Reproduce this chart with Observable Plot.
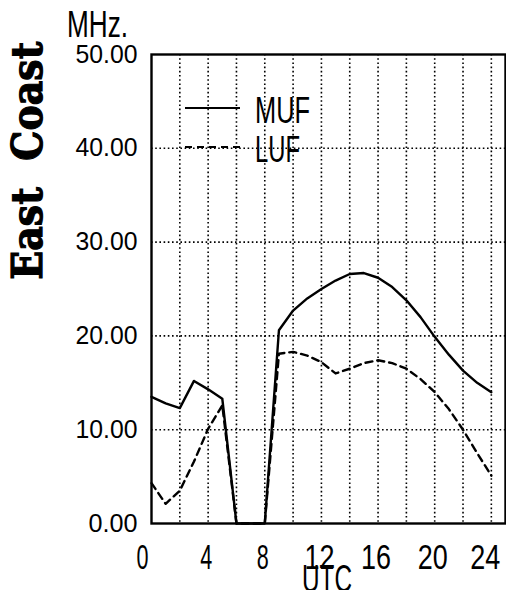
<!DOCTYPE html>
<html><head><meta charset="utf-8">
<script src="https://cdn.jsdelivr.net/npm/d3@7"></script>
<script src="https://cdn.jsdelivr.net/npm/@observablehq/plot@0.6"></script>
<style>body{margin:0;background:#fff}</style>
</head><body><div id="chart"></div>
<script>
// ---- data ----
const hours = [0,1,2,3,4,5,6,7,8,9,10,11,12,13,14,15,16,17,18,19,20,21,22,23,24];
const muf = [13.5,12.8,12.3,15.2,14.3,13.3,0,0,0,20.6,22.7,24.0,25.0,25.9,26.6,26.7,26.2,25.2,23.8,22.0,19.9,18.0,16.3,15.0,14.0];
const luf = [4.3,2.1,3.5,6.6,10.1,12.6,0,0,0,18.1,18.3,17.9,17.2,16.0,16.5,17.1,17.4,17.1,16.5,15.4,14.0,12.2,10.0,7.5,5.1];
const seriesNames = ["MUF","LUF"];
const xTicks = [0,4,8,12,16,20,24];
const yTicks = [0,10,20,30,40,50];
const xGrid = [2,4,6,8,10,12,14,16,18,20,22,24];
const yGrid = [10,20,30,40];
const yUnit = "MHz.";
const xLabel = "UTC";
const title = "East\u00a0 Coast";

const narrow = "'Liberation Sans Narrow','Liberation Sans',Arial,sans-serif";
const dots = {stroke:"#000", strokeWidth:1.6, strokeDasharray:"1.6,2.6"};

const chart = Plot.plot({
  width: 506, height: 590,
  marginLeft: 151, marginTop: 54, marginBottom: 67, marginRight: 1,
  style: {fontFamily: narrow, background: "#fff", color: "#000"},
  x: {domain: [0, 25]},
  y: {domain: [0, 50]},
  marks: [
    Plot.ruleX(xGrid, dots),
    Plot.ruleY(yGrid, dots),
    Plot.line(luf, {x: hours, y: luf, stroke: "#000", strokeWidth: 2.4, strokeDasharray: "7,5"}),
    Plot.line(muf, {x: hours, y: muf, stroke: "#000", strokeWidth: 2.4}),
    Plot.frame({stroke: "#000", strokeWidth: 2.4}),
    Plot.axisX({ticks: xTicks, tickSize: 0, tickPadding: 21, fontSize: 35, label: null}),
    Plot.axisY({ticks: yTicks, tickFormat: d3.format(".2f"), tickSize: 0, tickPadding: 14, fontSize: 25, label: null})
  ]
});
document.getElementById("chart").appendChild(chart);

const svg = d3.select(chart);
// condense tick labels to the plotter-font widths
svg.selectAll("g[aria-label='x-axis tick label'] text").each(function() {
  const s = this.textContent;
  const shift = s === "0" ? -9 : s === "24" ? -6 : -2;
  d3.select(this).attr("textLength", s.length > 1 ? 30 : 12).attr("lengthAdjust", "spacingAndGlyphs")
    .attr("dx", shift);
});
svg.selectAll("g[aria-label='y-axis tick label'] text").each(function() {
  const s = this.textContent;
  const w = s.replace(/[^0-9]/g, "").length * 13 + 10;
  d3.select(this).attr("textLength", w).attr("lengthAdjust", "spacingAndGlyphs");
});

function addText(str, attrs) {
  const t = svg.append("text").text(str).attr("fill", "#000").attr("text-anchor", "start");
  for (const k in attrs) t.attr(k, attrs[k]);
  return t;
}
addText(yUnit, {x: 67, y: 37, "font-size": 37, "font-family": narrow, textLength: 61, lengthAdjust: "spacingAndGlyphs"});
addText(xLabel, {x: 302, y: 592, "font-size": 39, "font-family": narrow, textLength: 50, lengthAdjust: "spacingAndGlyphs"});
addText(title, {transform: "translate(41.5,160.7) rotate(-90)", "text-anchor": "middle", "font-size": 43,
  "font-family": "'DejaVu Serif',serif", "font-weight": "bold", stroke: "#000", "stroke-width": 1.2,
  textLength: 238, lengthAdjust: "spacingAndGlyphs"});

// legend
const legend = svg.append("g");
const legendY = [108, 147];
const legendLen = [55, 45];
seriesNames.forEach((name, i) => {
  legend.append("line").attr("x1", 185).attr("x2", 240).attr("y1", legendY[i]).attr("y2", legendY[i])
    .attr("stroke", "#000").attr("stroke-width", 2.2).attr("stroke-dasharray", i ? "7,5" : null);
  legend.append("text").text(name).attr("x", 255).attr("y", legendY[i] + 15)
    .attr("text-anchor", "start")
    .attr("font-size", 36).attr("font-family", narrow).attr("fill", "#000")
    .attr("textLength", legendLen[i]).attr("lengthAdjust", "spacingAndGlyphs");
});
</script></body></html>
